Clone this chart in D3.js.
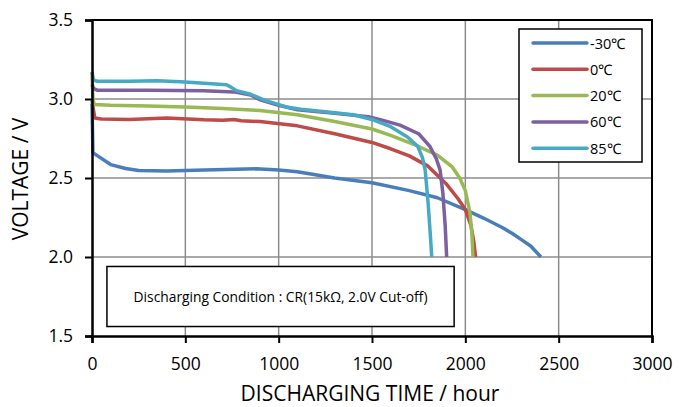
<!DOCTYPE html>
<html>
<script src='https://d3js.org/d3.v7.min.js'></script>
<style>
 body {margin:0; background:#fff;}
 text {font-family:'Open Sans', sans-serif; fill:#000;}
 .grid line {stroke:#8c8c8c; stroke-width:1.5;}
</style>
<body onload='init()'>
<svg width=688 height=407></svg>
<script>
// discharge curves, [hours, volts]
var series = ['-30℃', '0℃', '20℃', '60℃', '85℃'];
var colors = ['#4a7ebb', '#be4b48', '#98b954', '#7d60a0', '#46aac5'];
var m30 = [[0,2.97],[5,2.66],[30,2.64],[100,2.585],[180,2.56],[250,2.548],[400,2.545],[600,2.55],[880,2.558],[1000,2.55],[1100,2.54],[1300,2.50],[1500,2.47],[1700,2.42],[1850,2.375],[2000,2.30],[2100,2.245],[2200,2.185],[2250,2.15],[2300,2.11],[2350,2.07],[2405,2.0]];
var p0 = [[0,2.99],[8,2.93],[15,2.88],[50,2.873],[200,2.87],[400,2.88],[600,2.868],[700,2.865],[760,2.87],[800,2.862],[900,2.857],[1100,2.83],[1300,2.78],[1500,2.725],[1600,2.685],[1700,2.64],[1800,2.575],[1900,2.46],[1960,2.37],[2000,2.30],[2030,2.20],[2045,2.10],[2055,2.0]];
var p20 = [[0,3.17],[5,3.0],[12,2.965],[100,2.96],[300,2.955],[500,2.95],[700,2.94],[900,2.927],[1100,2.90],[1300,2.857],[1500,2.81],[1600,2.77],[1720,2.715],[1850,2.645],[1930,2.57],[1970,2.50],[2000,2.42],[2025,2.28],[2035,2.15],[2041,2.0]];
var p60 = [[0,3.09],[10,3.065],[30,3.055],[300,3.055],[600,3.052],[760,3.045],[850,3.025],[900,2.995],[1000,2.96],[1100,2.932],[1300,2.91],[1480,2.888],[1550,2.868],[1650,2.835],[1750,2.78],[1810,2.70],[1845,2.62],[1865,2.55],[1880,2.40],[1892,2.2],[1900,2.0]];
var p85 = [[0,3.17],[8,3.12],[30,3.112],[200,3.112],[350,3.115],[500,3.108],[600,3.10],[720,3.09],[740,3.078],[775,3.053],[850,3.03],[920,2.994],[1040,2.95],[1120,2.935],[1300,2.913],[1400,2.90],[1510,2.867],[1600,2.825],[1690,2.76],[1745,2.70],[1770,2.63],[1785,2.55],[1800,2.35],[1812,2.15],[1820,2.0]];
var xTicks = [0, 500, 1000, 1500, 2000, 2500, 3000];
var yTicks = [1.5, 2.0, 2.5, 3.0, 3.5];

function init() {
 var svg = d3.select('svg');
 var x = d3.scaleLinear().domain([0, 3000]).range([92, 652]);
 var y = d3.scaleLinear().domain([1.5, 3.5]).range([336, 20]);
 var data = [m30, p0, p20, p60, p85];

 // grid
 svg.append('g').attr('class', 'grid')
  .selectAll('line.v').data(xTicks.slice(1, -1)).enter().append('line')
  .attr('x1', x).attr('x2', x).attr('y1', y(3.5)).attr('y2', y(1.5));
 svg.append('g').attr('class', 'grid')
  .selectAll('line.h').data(yTicks.slice(1, -1)).enter().append('line')
  .attr('x1', x(0)).attr('x2', x(3000)).attr('y1', y).attr('y2', y);

 // top and right border
 svg.append('path')
  .attr('d', 'M' + x(0) + ',' + y(3.5) + 'H' + x(3000) + 'V' + y(1.5))
  .attr('fill', 'none').attr('stroke', '#000').attr('stroke-width', 2);

 // discharge condition box
 var bx = x(80), by = y(1.94);
 svg.append('rect').attr('x', bx).attr('y', by)
  .attr('width', x(1940) - bx).attr('height', y(1.56) - by)
  .attr('fill', '#fff').attr('stroke', '#000').attr('stroke-width', 1.5);
 svg.append('text').attr('x', (bx + x(1940)) / 2).attr('y', y(1.75) + 5)
  .attr('text-anchor', 'middle').style('font-size', '13.8px')
  .text('Discharging Condition : CR(15kΩ, 2.0V Cut-off)');

 // curves
 var line = d3.line().x(function (d) { return x(d[0]); }).y(function (d) { return y(d[1]); });
 svg.append('g').selectAll('path').data(data).enter().append('path')
  .attr('d', line).attr('fill', 'none')
  .attr('stroke', function (d, i) { return colors[i]; })
  .attr('stroke-width', 3.5).attr('stroke-linejoin', 'round');

 // axes
 var ax = svg.append('g').attr('transform', 'translate(0,' + y(1.5) + ')')
  .call(d3.axisBottom(x).tickValues(xTicks).tickSize(7).tickPadding(15).tickFormat(d3.format('d')));
 var ay = svg.append('g').attr('transform', 'translate(' + x(0) + ',0)')
  .call(d3.axisLeft(y).tickValues(yTicks).tickSize(7).tickPadding(12).tickFormat(d3.format('.1f')));
 [ax, ay].forEach(function (a) {
  a.select('.domain').attr('stroke-width', 2.5);
  a.selectAll('.tick line').attr('stroke-width', 2);
  a.selectAll('text').style('font-size', '17.5px').style('font-family', "'Open Sans', sans-serif");
 });

 // axis titles
 svg.append('text').attr('x', 370).attr('y', 401).attr('text-anchor', 'middle')
  .style('font-size', '21px').text('DISCHARGING TIME / hour');
 svg.append('text').attr('transform', 'translate(28,179) rotate(-90)').attr('text-anchor', 'middle')
  .style('font-size', '21px').text('VOLTAGE / V');

 // legend
 var lg = svg.append('g');
 lg.append('rect').attr('x', 519).attr('y', 29).attr('width', 123).attr('height', 133)
  .attr('fill', '#fff').attr('stroke', '#000').attr('stroke-width', 1.5);
 var it = lg.selectAll('g.item').data(series).enter().append('g')
  .attr('transform', function (d, i) { return 'translate(0,' + (43 + i * 26.3) + ')'; });
 it.append('line').attr('x1', 533).attr('x2', 587)
  .attr('stroke', function (d, i) { return colors[i]; })
  .attr('stroke-width', 3.5).attr('stroke-linecap', 'round');
 it.append('text').attr('x', 590).attr('y', 5.5).style('font-size', '14.5px').text(function (d) { return d; });
}
</script>
</body>
</html>
